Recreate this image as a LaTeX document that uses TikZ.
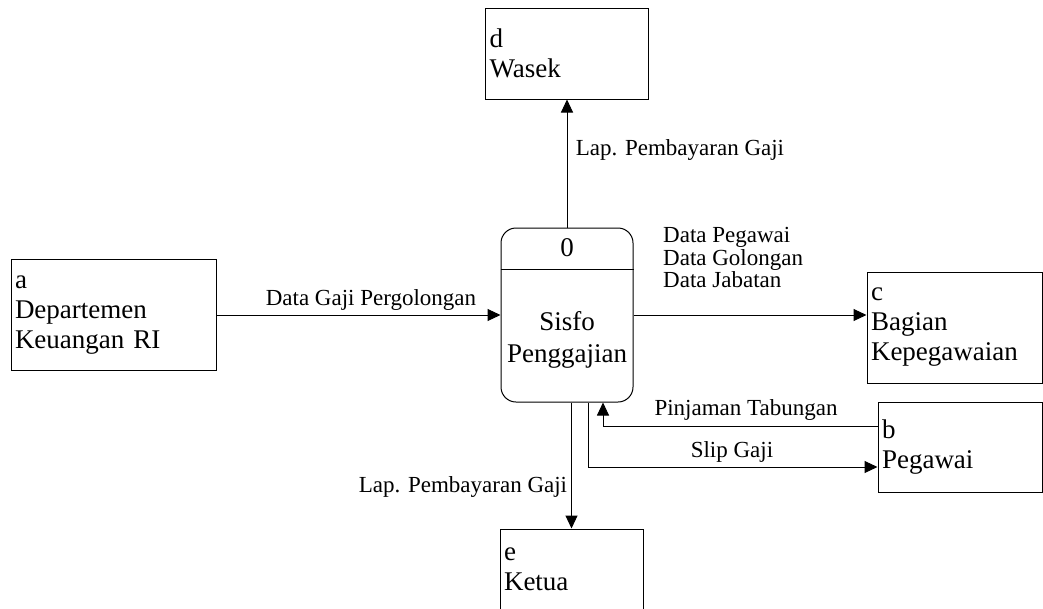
\documentclass[tikz,border=0pt]{standalone}
\usepackage{fontspec}
\setmainfont{Liberation Serif}
\usetikzlibrary{arrows.meta}
\tikzset{
    entity/.style = {draw, rectangle, line width=1pt, inner xsep=4pt, align=left, font=\fontsize{27}{30}\selectfont},
    process/.style = {draw, rectangle, rounded corners=15pt, line width=1pt, minimum width=132pt, minimum height=174pt},
    flow/.style = {line width=1pt, -{Triangle[length=13pt,width=12pt]}},
    flow-label/.style = {font=\fontsize{23}{22.5}\selectfont, anchor=base},
}

\begin{document}
\begin{tikzpicture}[x=1pt, y=-1pt]
\useasboundingbox (0,0) rectangle (1043,608);

% process
\node[process] (proc) at (567,315) {};
\draw[line width=1pt] ([yshift=-42pt]proc.north west) -- ([yshift=-42pt]proc.north east);
\node[font=\fontsize{27}{30}\selectfont] (proc-id) at ([yshift=-20pt]proc.north) {0};
\node[font=\fontsize{27}{32}\selectfont, align=center] (proc-name) at ([yshift=-25pt]proc.center) {Sisfo\\Penggajian};

% entities
\node[entity, text width=197pt, minimum height=111pt] (ent-a) at (113.5,315) {a\\Departemen\\Keuangan RI};
\node[entity, text width=155pt, minimum height=91pt] (ent-d) at (567,53.5) {d\\Wasek};
\node[entity, text width=167pt, minimum height=111pt] (ent-c) at (954.5,327.5) {c\\Bagian\\Kepegawaian};
\node[entity, text width=156pt, minimum height=90pt] (ent-b) at (960,447) {b\\Pegawai};
\node[entity, text width=135pt, minimum height=80pt] (ent-e) at (571.5,569) {e\\Ketua};

% flows
\draw[flow] (ent-a.east) -- (proc.west);
\draw[flow] (proc.north) -- (ent-d.south);
\draw[flow] (proc.east) -- (proc.east -| ent-c.west);
\draw[flow] (ent-e.north |- proc.south) -- (ent-e.north);
\draw[flow] ([xshift=21pt]proc.south) |- ([yshift=-20pt]ent-b.west);
\draw[flow] ([yshift=21pt]ent-b.west) -| ([xshift=36pt]proc.south);

% labels
\node[flow-label] (lbl-gaji) at (371,305) {Data Gaji Pergolongan};
\node[flow-label] (lbl-wasek) at (680,155) {Lap. Pembayaran Gaji};
\node[flow-label] (lbl-ketua) at (463,492) {Lap. Pembayaran Gaji};
\node[flow-label] (lbl-pinjam) at (746,415) {Pinjaman Tabungan};
\node[flow-label] (lbl-slip) at (732,457) {Slip Gaji};
\node[flow-label, anchor=north west, inner sep=0pt, align=left] (lbl-data) at (663,227.5) {Data Pegawai\\Data Golongan\\Data Jabatan};
\end{tikzpicture}
\end{document}
